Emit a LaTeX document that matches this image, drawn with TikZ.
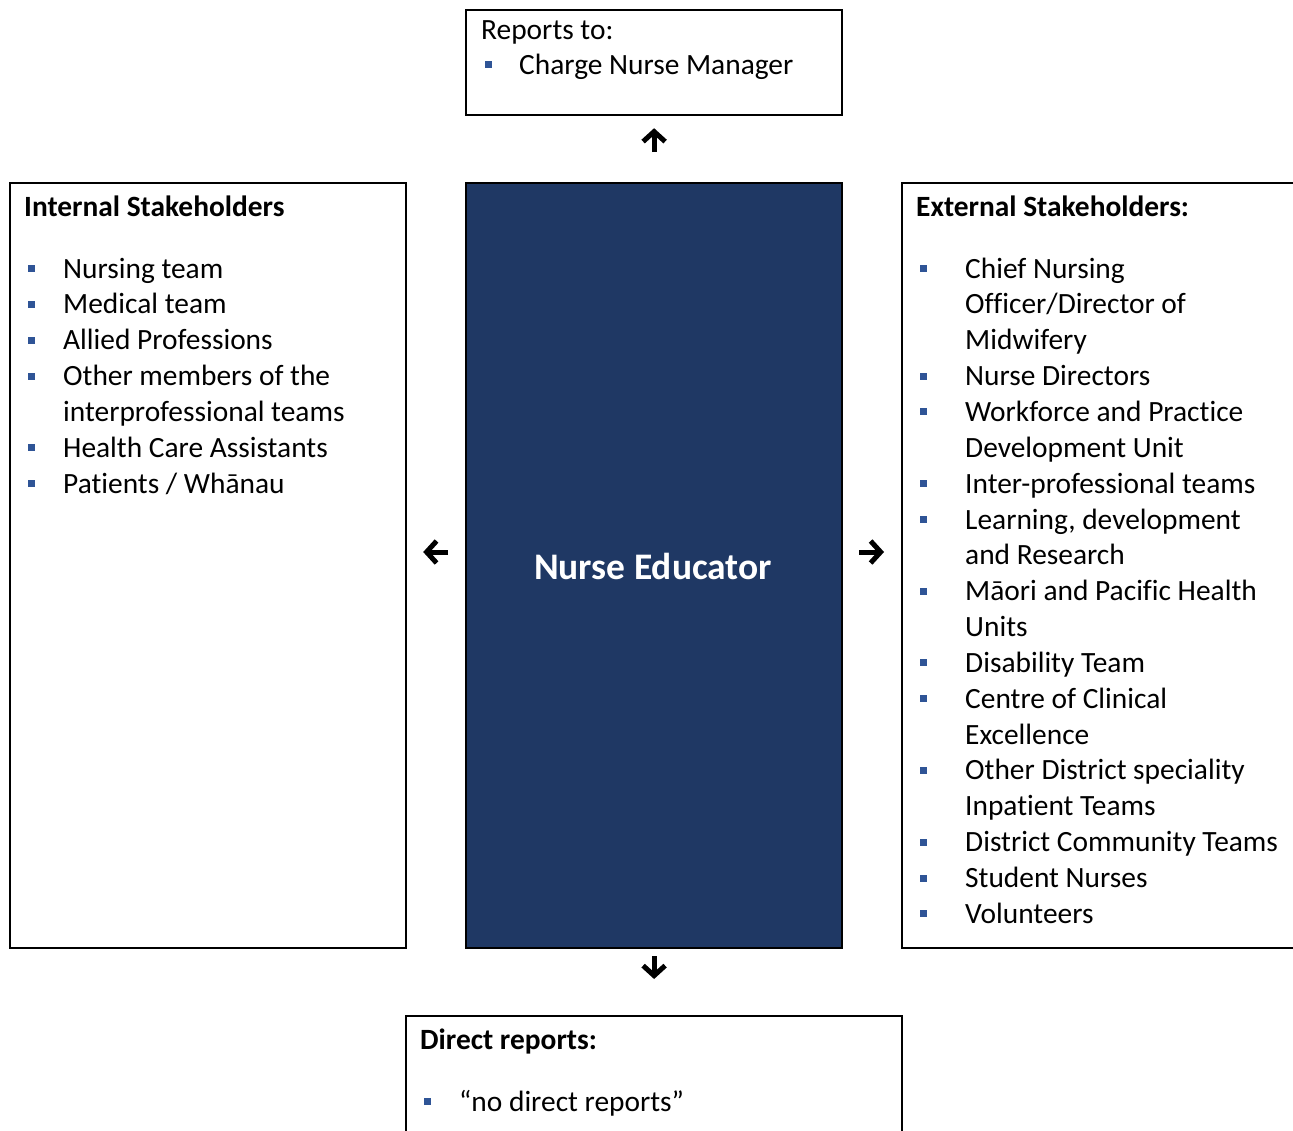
\documentclass[tikz,border=0pt]{standalone}
\usepackage{fontspec}
\setmainfont{Carlito}[Ligatures=NoCommon]
\usetikzlibrary{arrows.meta}
\definecolor{navy}{HTML}{1F3864}
\definecolor{bulc}{HTML}{2F5496}
\newcommand{\bulA}[1]{\makebox[#1][l]{\hspace*{3.5pt}\textcolor{bulc}{\rule[6pt]{7pt}{7pt}}}}
\newcommand{\indA}[1]{\hspace*{#1}}
\tikzset{
  box/.style={draw=black, line width=2.2pt, anchor=north west, inner sep=0pt},
  centerbox/.style={box, fill=navy},
  txt/.style={anchor=base west, inner sep=0pt, font=\fontsize{29.4pt}{35.85pt}\selectfont},
  conn/.style={line width=5pt, -{Straight Barb[length=10pt,width=22pt,line width=5pt]}},
}
\begin{document}
\begin{tikzpicture}[x=1pt,y=-1pt]
\useasboundingbox (0,0) rectangle (1293,1130);
\clip (0,0) rectangle (1293,1130);
% boxes
\node[box, minimum width=376pt, minimum height=105pt] (top) at (465,9) {};
\node[centerbox, minimum width=376pt, minimum height=765pt] (ctr) at (465,182) {};
\node[box, minimum width=396pt, minimum height=765pt] (intl) at (9,182) {};
\node[box, minimum width=420pt, minimum height=765pt] (extl) at (901,182) {};
\node[box, minimum width=496pt, minimum height=140pt] (dir) at (405,1015) {};
% center title
\node[text=white, font=\fontsize{37.5pt}{42pt}\selectfont\bfseries] (ctrtxt) at (653,566) {Nurse Educator};
% top text
\node[txt] (toptxt) at (481,39) {\begin{tabular}[t]{@{}l@{}}
Reports to:\\[-0.85pt]
\bulA{38pt}Charge Nurse Manager
\end{tabular}};
% internal
\node[txt] (intltxt) at (24,216) {\begin{tabular}[t]{@{}l@{}}
\textbf{Internal Stakeholders}\\[26.2pt]
\bulA{39pt}Nursing team\\
\bulA{39pt}Medical team\\
\bulA{39pt}Allied Professions\\
\bulA{39pt}Other members of the\\
\indA{39pt}interprofessional teams\\
\bulA{39pt}Health Care Assistants\\
\bulA{39pt}Patients / Whānau
\end{tabular}};
% external
\node[txt] (extltxt) at (916,216) {\begin{tabular}[t]{@{}l@{}}
\textbf{External Stakeholders:}\\[26.2pt]
\bulA{49pt}Chief Nursing\\
\indA{49pt}Officer/Director of\\
\indA{49pt}Midwifery\\
\bulA{49pt}Nurse Directors\\
\bulA{49pt}Workforce and Practice\\
\indA{49pt}Development Unit\\
\bulA{49pt}Inter-professional teams\\
\bulA{49pt}Learning, development\\
\indA{49pt}and Research\\
\bulA{49pt}Māori and Pacific Health\\
\indA{49pt}Units\\
\bulA{49pt}Disability Team\\
\bulA{49pt}Centre of Clinical\\
\indA{49pt}Excellence\\
\bulA{49pt}Other District speciality\\
\indA{49pt}Inpatient Teams\\
\bulA{49pt}District Community Teams\\
\bulA{49pt}Student Nurses\\
\bulA{49pt}Volunteers
\end{tabular}};
% direct reports
\node[txt] (dirtxt) at (420,1049) {\begin{tabular}[t]{@{}l@{}}
\textbf{Direct reports:}\\[26.2pt]
\bulA{39pt}“no direct reports”
\end{tabular}};
% connectors
\draw[conn, shorten <=30pt, shorten >=12pt] (ctr.north) -- (top.south);
\draw[conn, shorten <=7pt, shorten >=36pt] (ctr.south) -- (dir.north);
\draw[conn, shorten <=17pt, shorten >=16pt] (ctr.west |- 0,552) -- (intl.east |- 0,552);
\draw[conn, shorten <=16pt, shorten >=17pt] (ctr.east |- 0,552) -- (extl.west |- 0,552);
\end{tikzpicture}
\end{document}
